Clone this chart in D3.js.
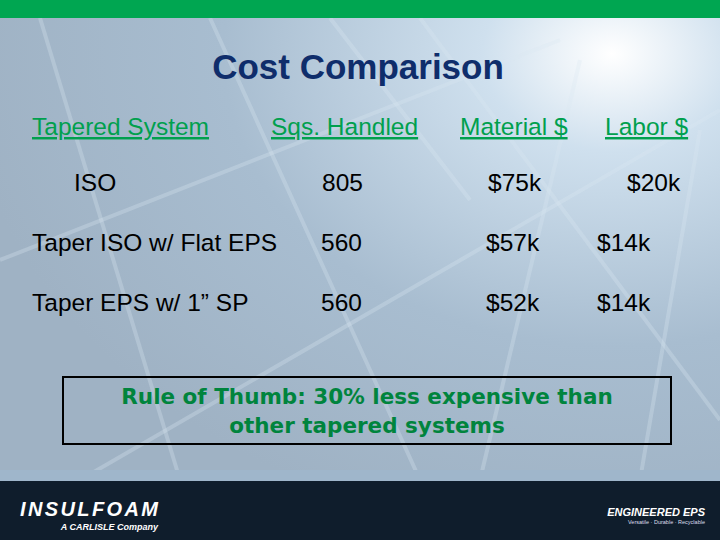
<!DOCTYPE html><html><head><meta charset="utf-8"><script src="https://cdn.jsdelivr.net/npm/d3@7"></script>
<style>body{margin:0}svg{display:block}</style></head><body><svg id="c" width="720" height="540"></svg>
<script>
const headers=["Tapered System","Sqs. Handled","Material $","Labor $"];
const systems=["ISO","Taper ISO w/ Flat EPS","Taper EPS w/ 1\u201d SP"];
const squares=["805","560","560"];
const material=["$75k","$57k","$52k"];
const labor=["$20k","$14k","$14k"];
const note=["Rule of Thumb: 30% less expensive than","other tapered systems"];
const svg=d3.select("#c");
const defs=svg.append("defs");
const g=defs.append("radialGradient").attr("id","bg").attr("cx","0.85").attr("cy","0.1").attr("r","0.9");
g.append("stop").attr("offset","0").attr("stop-color","#ffffff");
g.append("stop").attr("offset","0.2").attr("stop-color","#cfe0ee");
g.append("stop").attr("offset","0.6").attr("stop-color","#a8bdd0");
g.append("stop").attr("offset","1").attr("stop-color","#9fb2c4");
svg.append("rect").attr("width",720).attr("height",540).attr("fill","url(#bg)");
const lines=[[40,18,180,480],[210,18,420,480],[330,18,470,200],[420,18,720,420],[0,260,560,40],[80,480,720,110],[580,60,480,480],[700,130,640,480]];
svg.selectAll("line.bgl").data(lines).join("line").attr("x1",d=>d[0]).attr("y1",d=>d[1]).attr("x2",d=>d[2]).attr("y2",d=>d[3]).attr("stroke","#dbe7f1").attr("stroke-opacity",0.3).attr("stroke-width",4);
svg.append("rect").attr("width",720).attr("height",18).attr("fill","#00a651");
svg.append("rect").attr("y",470).attr("width",720).attr("height",12).attr("fill","#9fb6cb");
svg.append("rect").attr("y",481).attr("width",720).attr("height",59).attr("fill","#0f1d2c");
svg.append("text").attr("x",20).attr("y",516).attr("fill","#fff").attr("font-family","Liberation Sans").attr("font-weight","bold").attr("font-style","italic").attr("font-size",20).attr("textLength",138).text("INSULFOAM");
svg.append("text").attr("x",158).attr("y",530).attr("text-anchor","end").attr("fill","#fff").attr("font-family","Liberation Sans").attr("font-style","italic").attr("font-weight","bold").attr("font-size",9).text("A CARLISLE Company");
svg.append("text").attr("x",705).attr("y",516).attr("text-anchor","end").attr("fill","#fff").attr("font-family","Liberation Sans").attr("font-style","italic").attr("font-weight","bold").attr("font-size",11).text("ENGINEERED EPS");
svg.append("text").attr("x",705).attr("y",524).attr("text-anchor","end").attr("fill","#dde").attr("font-family","Liberation Sans").attr("font-size",5.5).text("Versatile · Durable · Recyclable");
svg.append("text").attr("x",358).attr("y",79).attr("text-anchor","middle").attr("fill","#0f2d6b").attr("font-family","Liberation Sans").attr("font-weight","bold").attr("font-size",35).text("Cost Comparison");
const hx=[32,271,460,605];
svg.selectAll("text.h").data(headers).join("text").attr("x",(d,i)=>hx[i]).attr("y",135).attr("fill","#00a04e").attr("font-family","Liberation Sans").attr("font-size",24.5).attr("text-decoration","underline").text(d=>d);
const y=d3.scalePoint().domain(systems).range([191,311]);
const f=sel=>sel.attr("fill","#000").attr("font-family","Liberation Sans").attr("font-size",24.5);
systems.forEach((s,i)=>{
  const xs=i===0?[74,322,488,627]:[32,321,486,597];
  [s,squares[i],material[i],labor[i]].forEach((t,j)=>svg.append("text").attr("x",xs[j]).attr("y",y(s)).call(f).text(t));
});
svg.append("rect").attr("x",63).attr("y",377).attr("width",608).attr("height",67).attr("fill","none").attr("stroke","#000").attr("stroke-width",2);
svg.selectAll("text.n").data(note).join("text").attr("x",367).attr("y",(d,i)=>404+i*29).attr("text-anchor","middle").attr("fill","#00843d").attr("font-family","DejaVu Sans").attr("font-weight","bold").attr("font-size",21.5).text(d=>d);
</script></body></html>
